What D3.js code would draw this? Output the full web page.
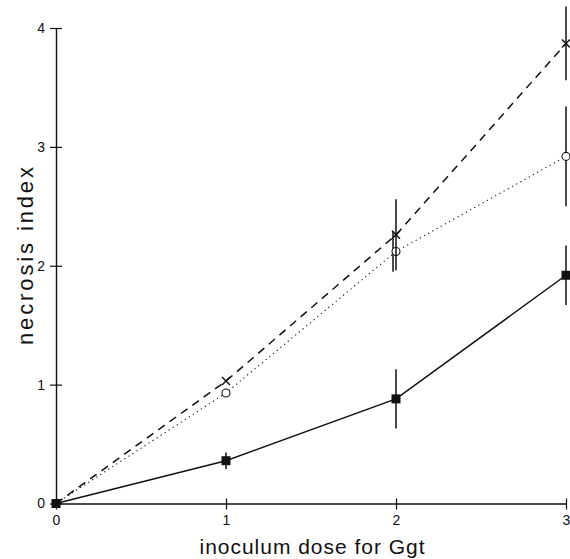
<!DOCTYPE html>
<html>
<head>
<meta charset="utf-8">
<script src="https://cdn.jsdelivr.net/npm/d3@7"></script>
<style>
  body { margin: 0; background: #fff; }
  svg { display: block; }
  text { font-family: "Liberation Sans", Arial, sans-serif; fill: #111; }
</style>
</head>
<body>
<div id="chart"></div>
<script>
// inoculum dose (x) and necrosis index for three treatments
var doses = [0, 1, 2, 3];
var solidVals = [0, 0.36, 0.88, 1.92];
var solidErr = [0, 0.07, 0.25, 0.25];
var dashedVals = [0, 1.03, 2.26, 3.87];
var dashedErr = [0, 0, 0.30, 0.31];
var dottedVals = [0, 0.93, 2.12, 2.92];
var dottedErr = [0, 0, 0.17, 0.42];
var xTicks = [0, 1, 2, 3];
var yTicks = [0, 1, 2, 3, 4];

var W = 570, H = 559;
var svg = d3.select("#chart").append("svg")
  .attr("width", W)
  .attr("height", H);

var x = d3.scaleLinear().domain([0, 3]).range([56, 566]);
var y = d3.scaleLinear().domain([0, 4]).range([503.5, 28]);

// axes, ticks crossing the line
var xAxis = d3.axisBottom(x).tickValues(xTicks).tickSize(0).tickPadding(12).tickFormat(d3.format("d"));
var yAxis = d3.axisLeft(y).tickValues(yTicks).tickSize(0).tickPadding(11).tickFormat(d3.format("d"));

var gx = svg.append("g").attr("transform", "translate(0," + y(0) + ")").call(xAxis);
var gy = svg.append("g").attr("transform", "translate(" + x(0) + ",0)").call(yAxis);
[gx, gy].forEach(function(g){
  g.select(".domain").attr("stroke", "#111").attr("stroke-width", 1.4);
  g.selectAll("text").style("font-size", "14px").attr("fill", "#111");
});
gx.selectAll(".tick").append("line").attr("y1", -5).attr("y2", 6).attr("stroke", "#111").attr("stroke-width", 1.2);
gy.selectAll(".tick").append("line").attr("x1", -6).attr("x2", 6).attr("stroke", "#111").attr("stroke-width", 1.2);

svg.append("text")
  .attr("x", 312).attr("y", 554)
  .attr("text-anchor", "middle")
  .attr("textLength", 225)
  .attr("lengthAdjust", "spacing")
  .style("font-size", "21px")
  .text("inoculum dose for Ggt");

svg.append("text")
  .attr("transform", "translate(33,256) rotate(-90)")
  .attr("text-anchor", "middle")
  .attr("textLength", 178)
  .attr("lengthAdjust", "spacing")
  .style("font-size", "22px")
  .text("necrosis index");

function series(vals, errs) {
  return doses.map(function(d, i){ return {x: d, v: vals[i], e: errs[i]}; });
}
var line = d3.line().x(function(d){ return x(d.x); }).y(function(d){ return y(d.v); });

var sets = [
  {data: series(dottedVals, dottedErr), dash: "1.2,3.6", w: 1.1, mark: "circle", dx: -3},
  {data: series(dashedVals, dashedErr), dash: "8,6", w: 1.5, mark: "cross", dx: 0},
  {data: series(solidVals, solidErr), dash: null, w: 1.5, mark: "square", dx: 0}
];

sets.forEach(function(s){
  svg.append("path")
    .datum(s.data)
    .attr("d", line)
    .attr("fill", "none")
    .attr("stroke", "#111")
    .attr("stroke-width", s.w)
    .attr("stroke-dasharray", s.dash);

  var pts = s.data.filter(function(d){ return d.x > 0; });

  svg.selectAll(null).data(pts.filter(function(d){ return d.e > 0; }))
    .enter().append("line")
    .attr("x1", function(d){ return x(d.x) + (d.x < 3 ? s.dx : 0); })
    .attr("x2", function(d){ return x(d.x) + (d.x < 3 ? s.dx : 0); })
    .attr("y1", function(d){ return y(d.v - d.e); })
    .attr("y2", function(d){ return y(d.v + d.e); })
    .attr("stroke", "#111")
    .attr("stroke-width", 1.5);

  var g = svg.selectAll(null).data(pts).enter().append("g")
    .attr("transform", function(d){ return "translate(" + x(d.x) + "," + y(d.v) + ")"; });
  if (s.mark == "circle") {
    g.append("circle").attr("r", 4).attr("fill", "#fff").attr("stroke", "#111").attr("stroke-width", 1.1);
  } else if (s.mark == "cross") {
    g.append("path").attr("d", "M-4,-4L4,4M-4,4L4,-4").attr("stroke", "#111").attr("stroke-width", 1.5);
  } else {
    g.append("rect").attr("x", -4.5).attr("y", -4.5).attr("width", 9).attr("height", 9).attr("fill", "#111");
  }
});

// shared origin point
svg.append("rect")
  .attr("x", x(0) - 4.5).attr("y", y(0) - 4.5)
  .attr("width", 9).attr("height", 9)
  .attr("fill", "#111");
</script>
</body>
</html>
